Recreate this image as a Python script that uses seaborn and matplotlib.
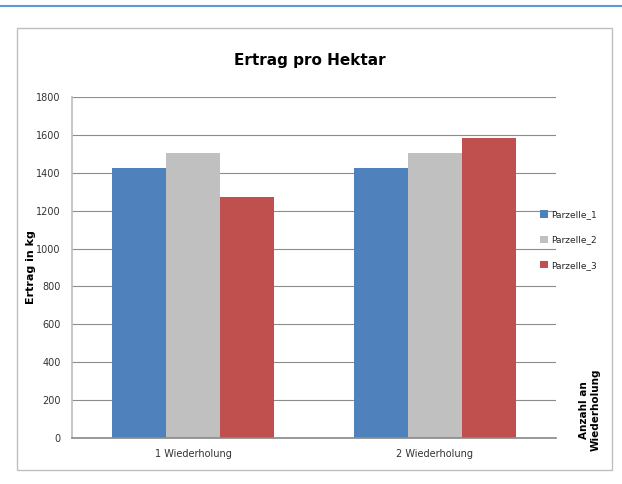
import pandas as pd
import matplotlib.pyplot as plt
import seaborn as sns
from matplotlib.patches import Rectangle
from matplotlib.lines import Line2D

# data
categories = ["1 Wiederholung", "2 Wiederholung"]
series = ["Parzelle_1", "Parzelle_2", "Parzelle_3"]
parzelle_1 = [1425, 1425]
parzelle_2 = [1505, 1505]
parzelle_3 = [1270, 1585]
colors = ["#4F81BD", "#C0C0C0", "#C0504D"]

df = pd.DataFrame({
    "wiederholung": categories * 3,
    "parzelle": [s for s in series for _ in categories],
    "ertrag": parzelle_1 + parzelle_2 + parzelle_3,
})

sns.set_theme(style="white")
plt.rcParams["font.family"] = ["DejaVu Sans"]

fig = plt.figure(figsize=(6.22, 4.84), dpi=100)

# top blue rule and chart frame
fig.add_artist(Line2D([0, 1], [1 - 6 / 484, 1 - 6 / 484], color="#5B9BD5", lw=1.5))
fig.add_artist(Rectangle((17 / 622, 1 - 470 / 484), (612 - 17) / 622, (470 - 28) / 484,
                         fill=False, edgecolor="#BFBFBF", lw=1))

ax = fig.add_axes([72 / 622, 1 - 438 / 484, (556 - 72) / 622, (438 - 97) / 484])

sns.barplot(
    data=df,
    x="wiederholung",
    y="ertrag",
    hue="parzelle",
    palette=colors,
    width=0.67,
    saturation=1,
    gap=0,
    linewidth=0,
    ax=ax,
)

ax.set_ylim(0, 1800)
ax.set_xlim(-0.5, 1.5)
ax.set_yticks(range(0, 1801, 200))
ax.yaxis.grid(True, color="#8C8C8C", lw=0.8)
ax.set_axisbelow(True)
for side in ["top", "right"]:
    ax.spines[side].set_visible(False)
ax.spines["left"].set_color("#BFBFBF")
ax.spines["bottom"].set_color("#8C8C8C")
ax.tick_params(axis="both", labelsize=7, colors="#333333", length=0, pad=8)
ax.set_xlabel("")
ax.set_ylabel("Ertrag in kg", fontsize=8, fontweight="bold", color="black", labelpad=0)

fig.text(310 / 622, 1 - 60 / 484, "Ertrag pro Hektar", ha="center", va="center",
         fontsize=11, fontweight="bold", color="black")
fig.text(590 / 622, 1 - 410 / 484, "Anzahl an\nWiederholung", rotation=90,
         ha="center", va="center", fontsize=7.5, fontweight="bold", color="black")

handles, labels = ax.get_legend_handles_labels()
ax.legend(handles, labels, loc="center left", bbox_to_anchor=(532 / 622, 1 - 240 / 484),
          bbox_transform=fig.transFigure, frameon=False, fontsize=6.5,
          handlelength=0.9, handleheight=0.9, handletextpad=0.3, labelspacing=1.8)

plt.savefig("out.png", dpi=100)
